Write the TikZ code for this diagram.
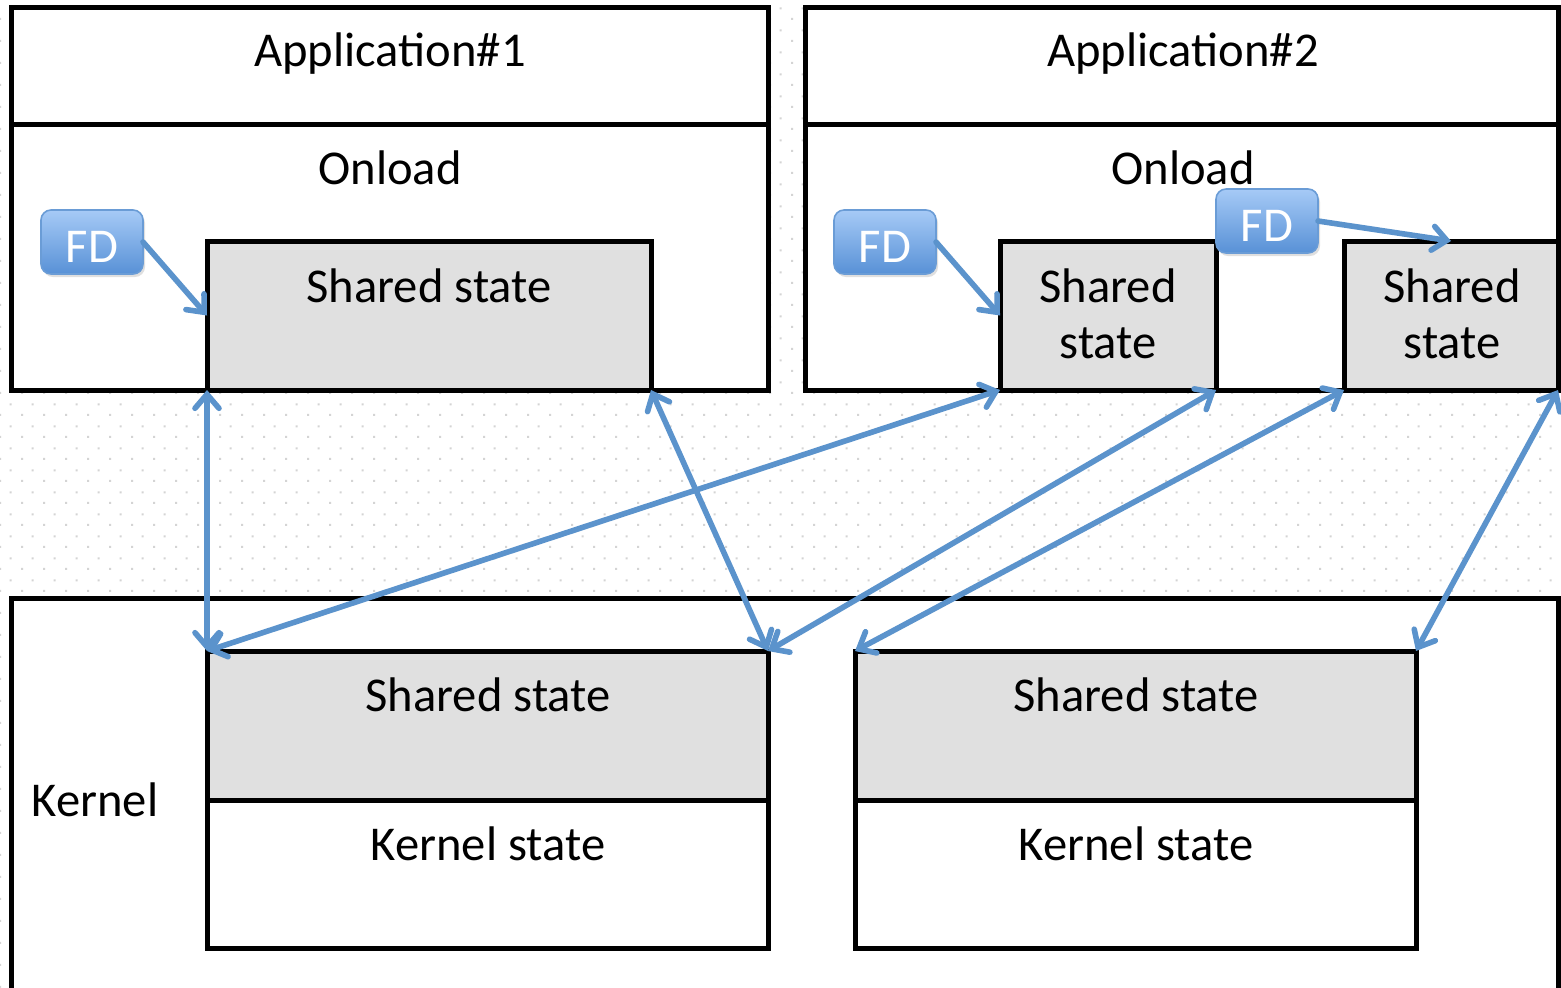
\documentclass[tikz,border=0pt]{standalone}
\usepackage{fontspec}
\setmainfont{Carlito}
\usetikzlibrary{arrows.meta,patterns.meta,shadows}
\definecolor{dotgray}{HTML}{D4D4D4}
\definecolor{ssfill}{HTML}{E0E0E0}
\definecolor{arrowblue}{HTML}{5B93CC}
\definecolor{fdtop}{HTML}{A6CAF6}
\definecolor{fdbot}{HTML}{5891D6}
\definecolor{fdborder}{HTML}{6A9CD6}
\newcommand{\lblfont}{\fontsize{24.3}{29}\selectfont}
\tikzdeclarepattern{
  name=bgdots,
  type=colored,
  bounding box={(0,0) and (11pt,11pt)},
  tile size={(11pt,11pt)},
  code={
    \fill[dotgray] (0pt,0pt) rectangle (1.1pt,1.1pt);
    \fill[dotgray] (5.5pt,5.5pt) rectangle (6.6pt,6.6pt);
  }
}
\begin{document}
\begin{tikzpicture}[x=0.5pt,y=-0.5pt,
  box/.style={draw=black,line width=2.5pt,fill=white,anchor=north west,inner sep=0pt,outer sep=0pt},
  ssbox/.style={box,fill=ssfill},
  fdbox/.style={draw=fdborder,line width=0.8pt,rounded corners=5pt,top color=fdtop,bottom color=fdbot,
    anchor=north west,inner sep=0pt,outer sep=0pt,text=white,font=\lblfont,
    minimum width=51pt,minimum height=32pt,text height=20pt,text depth=0pt,
    drop shadow={opacity=0.25,shadow xshift=1pt,shadow yshift=-1.5pt}},
  lbl/.style={anchor=base,font=\lblfont,inner sep=0pt},
  link/.style={draw=arrowblue,line width=2.8pt,line cap=round,
    >={Straight Barb[length=7pt,width=12pt,line cap=round]},<->},
  point/.style={draw=arrowblue,line width=2.8pt,line cap=round,
    >={Straight Barb[length=7pt,width=12pt,line cap=round]},->}
]
\clip (0,0) rectangle (1561,987);
\fill[white] (0,0) rectangle (1561,987);
\fill[pattern=bgdots] (0,0) rectangle (1561,987);

% Application 1
\node[box,minimum width=378.5pt,minimum height=58.5pt] (app1head) at (11,7) {};
\node[box,minimum width=378.5pt,minimum height=133pt] (app1body) at (11,124) {};
\node[ssbox,minimum width=222pt,minimum height=74.5pt] (ss1) at (207,241) {};
\node[lbl] (t_app1) at (390,66) {Application\#1};
\node[lbl] (t_onload1) at (390,184) {Onload};
\node[lbl] (t_ss1) at (429,302) {Shared state};
\node[fdbox] (fd1) at (41,210) {FD};

% Application 2
\node[box,minimum width=376.5pt,minimum height=58.5pt] (app2head) at (805,7) {};
\node[box,minimum width=376.5pt,minimum height=133pt] (app2body) at (805,124) {};
\node[ssbox,minimum width=108pt,minimum height=74.5pt] (ss2a) at (1000,241) {};
\node[ssbox,minimum width=107pt,minimum height=74.5pt] (ss2b) at (1344,241) {};
\node[lbl] (t_app2) at (1183,66) {Application\#2};
\node[lbl] (t_onload2) at (1183,184) {Onload};
\node[lbl] (t_ss2a1) at (1108,302) {Shared};
\node[lbl] (t_ss2a2) at (1108,358) {state};
\node[lbl] (t_ss2b1) at (1452,302) {Shared};
\node[lbl] (t_ss2b2) at (1452,358) {state};
\node[fdbox] (fd2) at (834,210) {FD};
\node[fdbox] (fd3) at (1216,189) {FD};

% Kernel
\node[box,minimum width=773.5pt,minimum height=210pt] (kernel) at (11,598) {};
\node[ssbox,minimum width=280.5pt,minimum height=74.5pt] (ks1) at (207,651) {};
\node[box,minimum width=280.5pt,minimum height=74pt] (kst1) at (207,800) {};
\node[ssbox,minimum width=280.5pt,minimum height=74.5pt] (ks2) at (855,651) {};
\node[box,minimum width=280.5pt,minimum height=74pt] (kst2) at (855,800) {};
\node[lbl] (t_kernel) at (95,816) {Kernel};
\node[lbl] (t_ks1) at (488,711) {Shared state};
\node[lbl] (t_kst1) at (488,860) {Kernel state};
\node[lbl] (t_ks2) at (1136,711) {Shared state};
\node[lbl] (t_kst2) at (1136,860) {Kernel state};

% Connectors
\draw[link] (ss1.south west) -- (ks1.north west);
\draw[link] (ss2a.south west) -- (ks1.north west);
\draw[link] (ss1.south east) -- (ks1.north east);
\draw[link] (ss2a.south east) -- (ks1.north east);
\draw[link] (ss2b.south west) -- (ks2.north west);
\draw[link] (ss2b.south east) -- (ks2.north east);
\draw[point] (fd1.east) -- (ss1.west);
\draw[point] (fd2.east) -- (ss2a.west);
\draw[point] (fd3.east) -- (ss2b.north);
\end{tikzpicture}
\end{document}
